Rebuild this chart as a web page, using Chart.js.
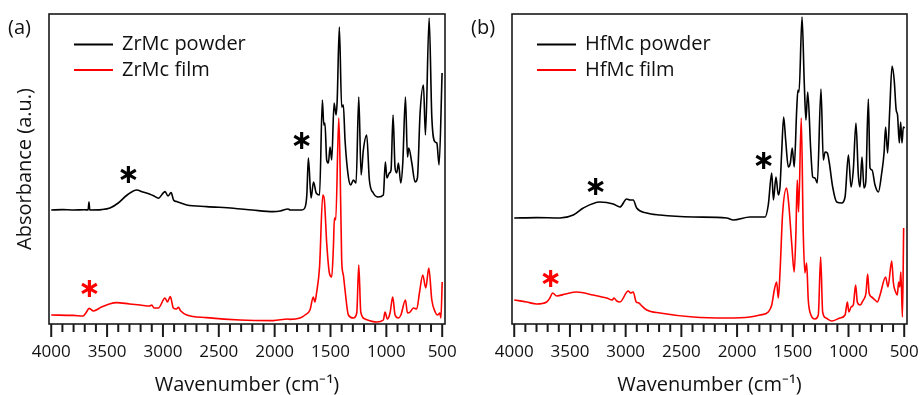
<!DOCTYPE html>
<html>
<head>
<meta charset="utf-8">
<script src="https://cdn.jsdelivr.net/npm/chart.js@4.4.0/dist/chart.umd.min.js"></script>
<style>
  body { margin: 0; background: #fff; }
  #wrapA { position: absolute; left: 0; top: 0; }
  #wrapB { position: absolute; left: 460px; top: 0; }
</style>
</head>
<body>
<div id="wrapA"><canvas id="chartA" width="460" height="395"></canvas></div>
<div id="wrapB"><canvas id="chartB" width="461" height="395"></canvas></div>
<script>
// wavenumber (cm-1) / absorbance (a.u.)
const zrPowderX = [4000, 3900, 3800, 3700, 3670, 3662, 3655, 3550, 3474, 3400, 3320, 3235, 3180, 3116, 3080, 3041, 2981, 2955, 2927, 2905, 2877, 2787, 2608, 2370, 2200, 2014, 1950, 1880, 1860, 1757, 1730, 1712, 1698, 1674, 1652, 1628, 1598, 1573, 1560, 1550, 1534, 1519, 1504, 1489, 1468, 1450, 1440, 1421, 1400, 1385, 1370, 1340, 1319, 1295, 1271, 1247, 1226, 1206, 1176, 1152, 1117, 1072, 1027, 1009, 995, 973, 958, 940, 922, 907, 892, 871, 853, 829, 811, 799, 772, 743, 722, 698, 668, 650, 617, 593, 563, 548, 528, 501];
const zrPowderY = [0.57, 0.572, 0.57, 0.571, 0.57, 0.61, 0.57, 0.572, 0.58, 0.605, 0.645, 0.67, 0.66, 0.649, 0.64, 0.629, 0.662, 0.64, 0.657, 0.62, 0.612, 0.595, 0.587, 0.579, 0.57, 0.562, 0.565, 0.575, 0.57, 0.57, 0.58, 0.645, 0.83, 0.63, 0.71, 0.655, 0.645, 1.12, 0.995, 1.005, 0.82, 0.805, 0.885, 0.82, 1.105, 1.045, 1.12, 1.485, 1.085, 1.095, 0.92, 0.735, 0.695, 0.72, 0.705, 1.135, 0.745, 0.87, 0.945, 0.72, 0.655, 0.635, 0.645, 0.81, 0.73, 0.755, 0.77, 1.045, 0.78, 0.755, 0.805, 0.705, 0.805, 1.135, 0.835, 0.88, 0.805, 0.71, 0.73, 1.055, 1.195, 0.945, 1.53, 1.035, 0.91, 0.905, 0.795, 1.255];

const zrFilmX = [4000, 3800, 3715, 3690, 3660, 3623, 3550, 3480, 3414, 3300, 3205, 3120, 3100, 3080, 3041, 2981, 2960, 2934, 2907, 2880, 2862, 2840, 2787, 2608, 2310, 2014, 1880, 1862, 1773, 1728, 1684, 1654, 1640, 1625, 1598, 1569, 1555, 1534, 1510, 1489, 1474, 1465, 1453, 1426, 1414, 1400, 1385, 1370, 1340, 1295, 1265, 1247, 1229, 1191, 1086, 1027, 1012, 991, 967, 943, 922, 892, 870, 829, 811, 787, 758, 728, 704, 674, 647, 620, 593, 563, 542, 521, 512, 500];
const zrFilmY = [0.045, 0.043, 0.04, 0.055, 0.078, 0.065, 0.085, 0.1, 0.107, 0.1, 0.095, 0.09, 0.095, 0.08, 0.08, 0.13, 0.11, 0.137, 0.08, 0.075, 0.083, 0.065, 0.045, 0.032, 0.02, 0.017, 0.025, 0.023, 0.03, 0.045, 0.07, 0.135, 0.11, 0.155, 0.285, 0.645, 0.62, 0.405, 0.255, 0.235, 0.385, 0.53, 0.52, 1.03, 0.785, 0.32, 0.245, 0.17, 0.045, 0.03, 0.055, 0.295, 0.06, 0.025, 0.01, 0.02, 0.06, 0.025, 0.055, 0.135, 0.045, 0.03, 0.045, 0.12, 0.055, 0.06, 0.08, 0.075, 0.155, 0.245, 0.18, 0.28, 0.12, 0.06, 0.045, 0.055, 0.03, 0.21];

const hfPowderX = [4000, 3800, 3590, 3470, 3380, 3231, 3111, 3051, 2991, 2960, 2932, 2901, 2811, 2692, 2393, 2093, 2034, 1884, 1765, 1749, 1720, 1689, 1674, 1651, 1630, 1615, 1600, 1582, 1564, 1540, 1522, 1505, 1487, 1465, 1454, 1444, 1417, 1397, 1382, 1366, 1339, 1321, 1301, 1280, 1247, 1226, 1210, 1190, 1172, 1142, 1106, 1061, 1031, 1001, 977, 957, 933, 912, 897, 879, 861, 845, 822, 807, 789, 762, 732, 702, 681, 667, 649, 630, 609, 590, 572, 560, 544, 532, 520, 508, 496];
const hfPowderY = [0.53, 0.532, 0.53, 0.545, 0.58, 0.61, 0.6, 0.585, 0.625, 0.62, 0.62, 0.58, 0.555, 0.545, 0.535, 0.53, 0.52, 0.535, 0.535, 0.535, 0.595, 0.755, 0.62, 0.735, 0.645, 0.685, 0.855, 1.035, 0.92, 0.785, 0.805, 0.88, 0.785, 1.07, 1.17, 1.16, 1.535, 1.205, 1.02, 1.16, 0.87, 0.735, 0.73, 0.705, 1.175, 0.82, 0.86, 0.855, 0.805, 0.685, 0.61, 0.605, 0.635, 0.845, 0.685, 0.77, 1.005, 0.745, 0.685, 0.835, 0.68, 0.71, 1.125, 0.78, 0.77, 0.695, 0.66, 0.755, 0.855, 0.985, 0.855, 1.07, 1.29, 1.22, 1.07, 1.045, 0.905, 1.01, 0.905, 0.985, 0.98];

const hfFilmX = [4000, 3889, 3799, 3709, 3680, 3655, 3619, 3540, 3440, 3291, 3171, 3120, 3105, 3080, 3051, 2977, 2955, 2932, 2905, 2880, 2863, 2811, 2692, 2393, 2093, 1884, 1794, 1720, 1689, 1666, 1645, 1630, 1615, 1591, 1555, 1534, 1510, 1487, 1472, 1460, 1448, 1424, 1406, 1391, 1376, 1361, 1337, 1301, 1271, 1250, 1232, 1202, 1151, 1076, 1031, 1010, 997, 977, 957, 936, 921, 897, 867, 843, 828, 815, 792, 762, 741, 717, 667, 646, 612, 597, 577, 562, 550, 540, 530, 516, 505];
const hfFilmY = [0.12, 0.11, 0.1, 0.11, 0.13, 0.155, 0.14, 0.15, 0.16, 0.145, 0.13, 0.12, 0.13, 0.115, 0.11, 0.165, 0.155, 0.16, 0.11, 0.105, 0.095, 0.07, 0.055, 0.035, 0.03, 0.035, 0.045, 0.06, 0.095, 0.17, 0.21, 0.13, 0.255, 0.555, 0.68, 0.585, 0.405, 0.26, 0.455, 0.72, 0.56, 1.03, 0.455, 0.255, 0.305, 0.12, 0.045, 0.025, 0.045, 0.335, 0.06, 0.03, 0.015, 0.03, 0.045, 0.11, 0.06, 0.085, 0.095, 0.195, 0.11, 0.095, 0.12, 0.155, 0.25, 0.155, 0.135, 0.12, 0.11, 0.145, 0.235, 0.185, 0.315, 0.205, 0.16, 0.145, 0.21, 0.185, 0.26, 0.035, 0.48];

// asterisk markers (wavenumber, absorbance, colour)
const zrMarkX = [3308, 1757, 3657];
const zrMarkY = [0.7525, 0.92, 0.1825];
const zrMarkC = ['#000', '#000', '#ff0000'];
const hfMarkX = [3268, 1761, 3672];
const hfMarkY = [0.69, 0.82, 0.2325];
const hfMarkC = ['#000', '#000', '#ff0000'];

const tickVals = [500, 1000, 1500, 2000, 2500, 3000, 3500, 4000];

const FONT = "'Open Sans', sans-serif";
const INK = '#111';

function pts(xs, ys) {
  return xs.map((v, i) => ({ x: v, y: ys[i] }));
}

// frame, minor ticks, legend, panel letter, y title, asterisks
const decor = {
  id: 'decor',
  afterDraw(chart, args, opts) {
    const { ctx, chartArea: a, scales } = chart;
    const sx = scales.x, sy = scales.y;
    ctx.save();
    ctx.strokeStyle = '#1a1a1a';
    ctx.lineWidth = 1.6;
    ctx.strokeRect(a.left, a.top, a.right - a.left, a.bottom - a.top);

    ctx.lineWidth = 2;
    for (let v = 500; v <= 4000; v += 100) {
      const px = sx.getPixelForValue(v);
      const len = v % 500 === 0 ? 13 : 8;
      ctx.beginPath();
      ctx.moveTo(px, a.bottom);
      ctx.lineTo(px, a.bottom + len);
      ctx.stroke();
    }

    ctx.font = '20px ' + FONT;
    ctx.textBaseline = 'middle';
    ctx.textAlign = 'left';
    chart.data.datasets.forEach((ds, i) => {
      const ly = 44.5 + i * 25.5;
      ctx.strokeStyle = ds.borderColor;
      ctx.lineWidth = 2;
      ctx.beginPath();
      ctx.moveTo(a.left + 25, ly);
      ctx.lineTo(a.left + 64, ly);
      ctx.stroke();
      ctx.fillStyle = INK;
      ctx.fillText(ds.label, a.left + 73, ly);
    });

    ctx.fillStyle = INK;
    ctx.fillText(opts.panel, a.left - 41, 28);

    if (opts.yTitle) {
      ctx.save();
      ctx.translate(25, (a.top + a.bottom) / 2);
      ctx.rotate(-Math.PI / 2);
      ctx.textAlign = 'center';
      ctx.fillText(opts.yTitle, 0, 0);
      ctx.restore();
    }

    // asterisks, scaled to ~17px wide and centred on their data position
    const star = '\u2217';
    ctx.font = 'bold 40px "DejaVu Sans"';
    const w0 = ctx.measureText(star);
    const size = 40 * 17 / (w0.actualBoundingBoxRight + w0.actualBoundingBoxLeft);
    ctx.font = 'bold ' + size.toFixed(1) + 'px "DejaVu Sans"';
    ctx.textAlign = 'left';
    ctx.textBaseline = 'alphabetic';
    const m = ctx.measureText(star);
    const w = m.actualBoundingBoxRight + m.actualBoundingBoxLeft;
    const h = m.actualBoundingBoxAscent + m.actualBoundingBoxDescent;
    opts.markX.forEach((v, i) => {
      const cx = sx.getPixelForValue(v);
      const cy = sy.getPixelForValue(opts.markY[i]);
      ctx.fillStyle = opts.markC[i];
      ctx.fillText(star, cx - w / 2 + m.actualBoundingBoxLeft, cy + m.actualBoundingBoxAscent - h / 2);
    });
    ctx.restore();
  }
};

function makeChart(id, powderLabel, filmLabel, powder, film, pad, extra) {
  return new Chart(document.getElementById(id), {
    type: 'line',
    data: {
      datasets: [
        { label: powderLabel, data: powder, borderColor: '#000', borderWidth: 1.6, pointRadius: 0, cubicInterpolationMode: 'monotone', order: 1 },
        { label: filmLabel, data: film, borderColor: '#ff0000', borderWidth: 1.6, pointRadius: 0, cubicInterpolationMode: 'monotone', order: 0 }
      ]
    },
    options: {
      responsive: false,
      animation: false,
      layout: { padding: pad },
      plugins: { legend: { display: false }, tooltip: { enabled: false }, decor: extra },
      scales: {
        x: {
          type: 'linear',
          reverse: true,
          min: 475,
          max: 4020,
          afterBuildTicks: s => { s.ticks = tickVals.map(v => ({ value: v })); },
          afterFit: s => { s.height = 71; },
          grid: { drawOnChartArea: false, drawTicks: true, tickLength: 13, color: 'rgba(0,0,0,0)' },
          border: { display: false },
          ticks: { padding: 5, color: INK, maxRotation: 0, autoSkip: false, font: { family: FONT, size: 17 }, callback: v => String(v) },
          title: { display: true, text: 'Wavenumber (cm\u207B\u00B9)', color: INK, font: { family: FONT, size: 20, lineHeight: 1.0 }, padding: { top: 0, bottom: 0 } }
        },
        y: { display: false, min: 0, max: 1.55 }
      }
    },
    plugins: [decor]
  });
}

makeChart('chartA', 'ZrMc powder', 'ZrMc film', pts(zrPowderX, zrPowderY), pts(zrFilmX, zrFilmY),
  { left: 49, right: 15, top: 14, bottom: 0 },
  { panel: '(a)', yTitle: 'Absorbance (a.u.)', markX: zrMarkX, markY: zrMarkY, markC: zrMarkC });

makeChart('chartB', 'HfMc powder', 'HfMc film', pts(hfPowderX, hfPowderY), pts(hfFilmX, hfFilmY),
  { left: 52, right: 14, top: 14, bottom: 0 },
  { panel: '(b)', yTitle: null, markX: hfMarkX, markY: hfMarkY, markC: hfMarkC });
</script>
</body>
</html>
